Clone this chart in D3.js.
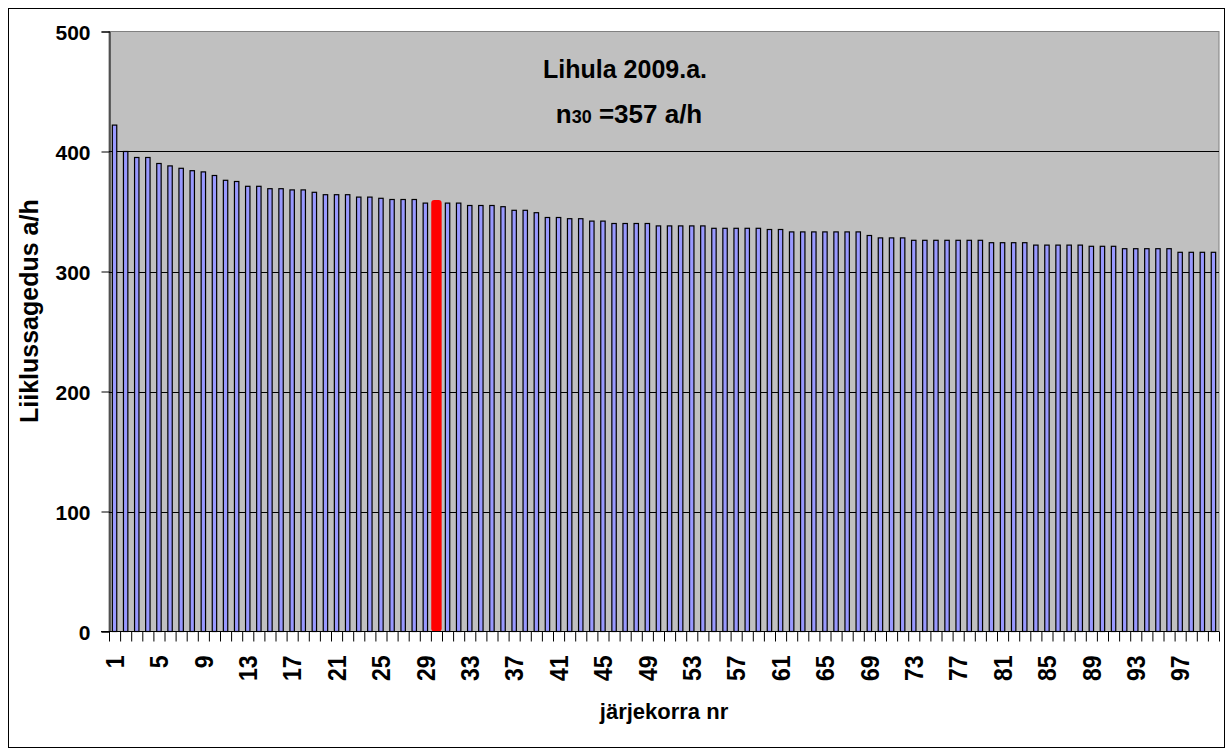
<!DOCTYPE html>
<html>
<head>
<meta charset="utf-8">
<script src="https://cdn.jsdelivr.net/npm/d3@7"></script>
<style>
  html, body { margin: 0; padding: 0; background: #ffffff; }
  svg { display: block; }
  text { font-family: Arial, "Liberation Sans", sans-serif; font-weight: bold; fill: #000; }
</style>
</head>
<body>
<svg id="chart" width="1226" height="749"></svg>
<script>
// ---- data ----
const categories = d3.range(1, 101);
const values = [
  422, 400, 395, 395, 390, 388, 386, 384, 383, 380,
  376, 375, 371, 371, 369, 369, 368, 368, 366, 364,
  364, 364, 362, 362, 361, 360, 360, 360, 357, 357,
  357, 357, 355, 355, 355, 354, 351, 351, 349, 345,
  345, 344, 344, 342, 342, 340, 340, 340, 340, 338,
  338, 338, 338, 338, 336, 336, 336, 336, 336, 335,
  335, 333, 333, 333, 333, 333, 333, 333, 330, 328,
  328, 328, 326, 326, 326, 326, 326, 326, 326, 324,
  324, 324, 324, 322, 322, 322, 322, 322, 321, 321,
  321, 319, 319, 319, 319, 319, 316, 316, 316, 316
];
const highlightCategory = 30;
const yTickValues = [0, 100, 200, 300, 400, 500];
const gridValues = [100, 200, 300, 400];
const xLabelCategories = [1, 5, 9, 13, 17, 21, 25, 29, 33, 37, 41, 45, 49, 53, 57, 61, 65, 69, 73, 77, 81, 85, 89, 93, 97];
const titleLine1 = "Lihula 2009.a.";
const titleMain = "n";
const titleSub = "30";
const titleRest = " =357 a/h";
const yTitle = "Liiklussagedus a/h";
const xTitle = "järjekorra nr";

const data = categories.map((c, i) => ({ cat: c, value: values[i] }));

// ---- layout ----
const svg = d3.select("#chart");
const plotL = 109, plotR = 1219, plotT = 31.5, plotB = 631.5;

const x = d3.scaleBand().domain(categories).range([plotL, plotR]).paddingInner(0).paddingOuter(0);
const xb = d3.scaleLinear().domain([0, categories.length]).range([plotL, plotR]);
const y = d3.scaleLinear().domain([0, 500]).range([plotB, plotT]);

// outer border
svg.append("rect")
  .attr("x", 8.5).attr("y", 8.5).attr("width", 1216).attr("height", 739)
  .attr("fill", "#ffffff").attr("stroke", "#000").attr("stroke-width", 1);

// plot area
svg.append("rect")
  .attr("x", plotL).attr("y", plotT).attr("width", plotR - plotL).attr("height", plotB - plotT)
  .attr("fill", "#c0c0c0").attr("stroke", "#808080").attr("stroke-width", 1);

// gridlines
svg.append("g").selectAll("line").data(gridValues).join("line")
  .attr("x1", plotL).attr("x2", plotR)
  .attr("y1", d => Math.round(y(d)) + 0.5).attr("y2", d => Math.round(y(d)) + 0.5)
  .attr("stroke", "#000").attr("stroke-width", 1);

// bars
const barW = 4.4;
const bars = svg.append("g");
bars.selectAll("rect.bar").data(data.filter(d => d.cat !== highlightCategory)).join("rect")
  .attr("class", "bar")
  .attr("x", d => x(d.cat) + x.bandwidth() / 2 - barW / 2)
  .attr("width", barW)
  .attr("y", d => y(d.value))
  .attr("height", d => y(0) - y(d.value))
  .attr("fill", "#9999ff").attr("stroke", "#000").attr("stroke-width", 1.2);

bars.selectAll("rect.hl").data(data.filter(d => d.cat === highlightCategory)).join("rect")
  .attr("class", "hl")
  .attr("x", d => x(d.cat) + x.bandwidth() / 2 - barW / 2)
  .attr("width", barW)
  .attr("y", d => y(d.value))
  .attr("height", d => y(0) - y(d.value) - 3)
  .attr("fill", "#ff0000").attr("stroke", "#ff0000").attr("stroke-width", 6)
  .attr("stroke-linejoin", "round");

// y axis
const yAxis = svg.append("g")
  .attr("transform", `translate(${plotL + 0.5},0)`)
  .call(d3.axisLeft(y).tickValues(yTickValues).tickSize(8).tickPadding(11).tickFormat(d3.format("d")));
yAxis.select(".domain").attr("stroke", "#000");
yAxis.selectAll(".tick line").attr("stroke", "#000");
yAxis.selectAll(".tick text").style("font-size", "21px").attr("dy", "0.36em")
  .style("font-family", "Arial, 'Liberation Sans', sans-serif").style("font-weight", "bold");

// x axis: tick marks at category boundaries
const xTicks = svg.append("g")
  .attr("transform", `translate(0,${plotB})`)
  .call(d3.axisBottom(xb).tickValues(d3.range(0, categories.length + 1)).tickSize(10).tickSizeOuter(0).tickFormat(""));
xTicks.select(".domain").remove();
xTicks.selectAll(".tick line").attr("stroke", "#000");

// x axis line
svg.append("line")
  .attr("x1", plotL - 8).attr("x2", plotR)
  .attr("y1", plotB).attr("y2", plotB)
  .attr("stroke", "#000").attr("stroke-width", 1);

// x labels (rotated)
const xLab = svg.append("g")
  .attr("transform", `translate(0,${plotB})`)
  .call(d3.axisBottom(x).tickValues(xLabelCategories).tickSize(0).tickFormat(d3.format("d")));
xLab.select(".domain").remove();
xLab.selectAll(".tick text")
  .attr("transform", "rotate(-90) scale(1,1.12)")
  .attr("x", -24).attr("y", 0).attr("dy", "0.36em")
  .style("text-anchor", "end")
  .style("font-size", "23px")
  .style("font-family", "Arial, 'Liberation Sans', sans-serif").style("font-weight", "bold");

// axis titles
svg.append("text")
  .attr("transform", "translate(38,423) rotate(-90)")
  .attr("text-anchor", "start")
  .style("font-size", "25px")
  .text(yTitle);

svg.append("text")
  .attr("x", (plotL + plotR) / 2).attr("y", 719)
  .attr("text-anchor", "middle")
  .style("font-size", "22px")
  .text(xTitle);

// chart title
svg.append("text")
  .attr("x", 625).attr("y", 78)
  .attr("text-anchor", "middle")
  .style("font-size", "25px")
  .text(titleLine1);

const t2 = svg.append("text")
  .attr("x", 629).attr("y", 123)
  .attr("text-anchor", "middle")
  .style("font-size", "26px");
t2.append("tspan").text(titleMain);
t2.append("tspan").style("font-size", "18px").text(titleSub);
t2.append("tspan").text(titleRest);
</script>
</body>
</html>
